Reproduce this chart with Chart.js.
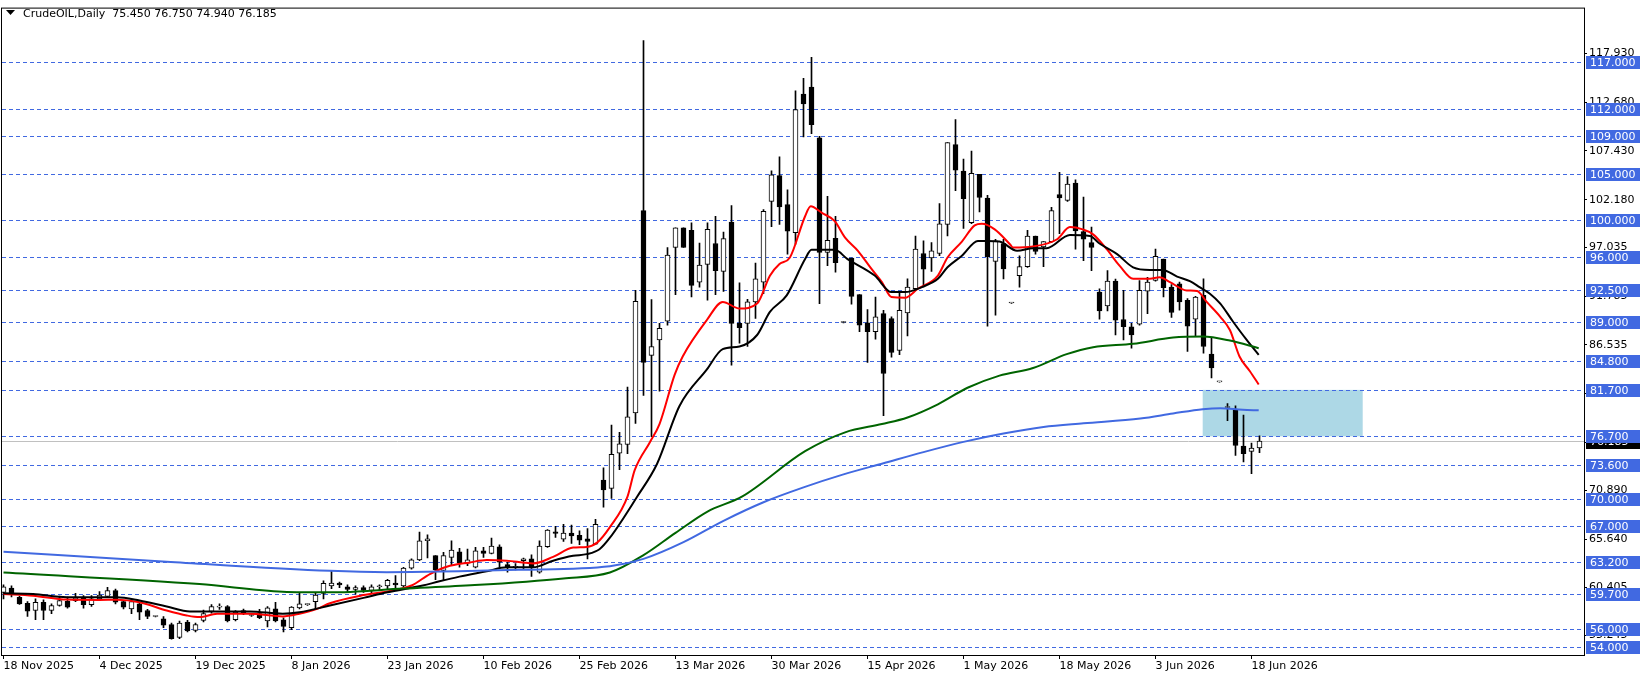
<!DOCTYPE html>
<html>
<head>
<meta charset="utf-8">
<script src="https://cdn.jsdelivr.net/npm/chart.js@4.4.0/dist/chart.umd.min.js"></script>
<style>
html, body { margin: 0; padding: 0; background: #fff; }
canvas { display: block; }
</style>
</head>
<body>
<canvas id="grafica" width="1641" height="679"></canvas>
<script>
// velas diarias (una por barra, de 18 Nov 2025 a 19 Jun 2026)
var opens = [
  59.9, 60.35, 59.37, 58.72, 57.94, 58.83, 57.94, 58.48, 58.94, 59.0,
  59.36, 58.58, 59.19, 59.47, 60.08, 58.9, 58.12, 58.65, 57.94, 57.3,
  57.05, 56.42, 55.03, 56.7, 55.81, 56.88, 57.83, 58.3, 58.37, 56.95,
  57.94, 57.4, 57.6, 56.81, 58.12, 56.95, 56.1, 58.23, 58.58, 58.9,
  59.79, 60.6, 60.9, 60.5, 60.2, 60.4, 60.1, 60.5, 60.6, 60.9,
  60.6, 62.5, 63.39, 65.45, 63.85, 62.25, 63.67, 64.27, 63.03, 62.6,
  64.38, 64.1, 64.81, 62.89, 62.6, 63.32, 63.5, 62.07, 64.81, 66.41,
  65.63, 66.27, 66.05, 65.66, 65.09, 72.0, 71.1, 74.89, 75.82, 79.23,
  101.01, 85.41, 87.08, 89.11, 97.03, 99.16, 98.88, 93.31, 95.22, 97.46,
  94.47, 99.77, 88.86, 88.86, 91.17, 93.3, 102.0, 104.78, 101.65, 98.63,
  113.55, 114.3, 108.83, 96.5, 98.03, 88.96, 95.9, 91.95, 88.93, 87.97,
  89.92, 89.39, 85.94, 90.0, 92.59, 96.39, 95.9, 96.39, 99.52, 108.12,
  105.27, 99.7, 104.92, 102.36, 95.54, 97.46, 91.06, 94.01, 94.97, 98.27,
  97.1, 97.67, 102.72, 102.11, 103.96, 98.74, 97.56, 92.23, 90.74, 93.41,
  89.28, 88.5, 88.79, 92.34, 93.48, 95.79, 92.77, 93.12, 91.35, 89.32,
  91.88, 85.55, 82.57, 79.8, 79.51, 75.64, 75.07, 75.45
];
var highs = [
  60.7, 60.6, 59.5, 58.9, 59.19, 59.1, 58.65, 59.5, 59.4, 59.8,
  59.55, 59.55, 59.97, 60.43, 60.25, 59.0, 59.08, 58.83, 58.08, 57.35,
  57.3, 56.6, 56.8, 56.88, 56.6, 58.0, 58.58, 58.65, 58.48, 57.94,
  58.1, 57.5, 58.08, 58.37, 58.83, 57.16, 58.37, 59.9, 58.65, 59.79,
  61.14, 62.2, 61.0, 60.7, 60.6, 60.6, 60.7, 60.7, 61.3, 61.7,
  62.6, 63.5, 66.4, 66.1, 63.85, 64.2, 65.45, 64.63, 64.56, 64.74,
  64.74, 65.73, 65.02, 63.14, 63.0, 63.6, 63.95, 65.45, 66.66, 67.01,
  67.22, 67.15, 66.52, 66.76, 67.76, 73.3, 77.91, 77.13, 82.0, 92.41,
  119.31, 91.42, 88.86, 97.03, 99.16, 99.16, 99.7, 97.5, 99.7, 100.4,
  98.7, 101.55, 93.23, 91.45, 95.36, 101.12, 105.3, 106.8, 103.25, 113.9,
  115.26, 117.5, 109.0, 102.54, 100.4, 89.05, 95.9, 91.95, 90.35, 91.7,
  90.28, 89.57, 92.24, 93.66, 98.27, 97.74, 97.56, 101.76, 108.33, 110.82,
  106.55, 107.41, 104.92, 102.65, 97.92, 97.92, 91.1, 96.14, 98.88, 98.27,
  97.67, 101.37, 105.13, 104.67, 104.32, 102.47, 99.23, 92.59, 94.54, 93.62,
  92.41, 88.86, 93.48, 93.83, 96.85, 95.79, 93.05, 93.3, 91.52, 91.77,
  93.66, 87.26, 82.62, 80.22, 79.97, 79.0, 75.96, 76.75
];
var lows = [
  59.2, 59.4, 58.6, 57.3, 56.95, 56.95, 57.6, 58.4, 58.2, 58.9,
  58.2, 58.37, 59.0, 59.37, 58.65, 58.12, 57.6, 56.95, 57.05, 57.25,
  56.1, 54.85, 54.92, 55.63, 55.63, 56.7, 57.66, 58.05, 56.7, 56.81,
  57.5, 57.3, 57.05, 56.17, 56.7, 55.63, 55.88, 58.12, 58.5, 58.12,
  59.19, 60.3, 60.4, 59.9, 59.7, 59.9, 59.8, 60.1, 60.3, 60.4,
  60.2, 62.4, 63.3, 63.6, 61.26, 61.26, 62.78, 62.6, 62.78, 62.53,
  63.67, 64.03, 62.6, 62.07, 62.3, 62.4, 61.6, 61.97, 64.74, 65.8,
  65.38, 65.17, 65.02, 63.5, 65.02, 69.07, 70.0, 73.1, 74.82, 78.09,
  81.11, 76.67, 81.57, 88.68, 91.95, 97.03, 91.7, 92.77, 91.35, 91.95,
  92.3, 84.35, 86.72, 86.37, 89.39, 92.06, 99.27, 99.52, 96.32, 97.39,
  108.93, 109.29, 90.99, 95.07, 94.37, 88.9, 90.92, 87.97, 84.67, 87.15,
  78.91, 85.23, 85.48, 87.51, 92.41, 92.84, 94.47, 96.14, 98.27, 103.14,
  99.09, 99.59, 100.87, 88.57, 89.75, 93.66, 91.0, 92.77, 94.9, 96.32,
  94.97, 97.56, 98.52, 102.0, 96.85, 95.61, 94.54, 89.32, 90.21, 87.62,
  87.08, 86.19, 88.68, 89.92, 93.41, 91.7, 89.5, 90.28, 85.84, 87.51,
  85.66, 83.0, 82.52, 78.38, 74.64, 73.93, 72.69, 74.94
];
var closes = [
  60.5, 59.72, 58.65, 57.87, 58.83, 57.94, 58.48, 59.0, 58.3, 59.3,
  58.58, 59.19, 59.61, 60.08, 58.83, 58.3, 58.9, 57.77, 57.3, 57.3,
  56.35, 54.92, 56.6, 55.74, 56.42, 57.6, 58.37, 58.33, 56.81, 57.77,
  57.66, 57.42, 57.16, 58.23, 56.81, 56.24, 58.3, 58.65, 58.6, 59.61,
  60.86, 60.9, 60.7, 60.2, 60.4, 60.1, 60.5, 60.6, 61.2, 60.7,
  62.5, 63.39, 65.45, 65.66, 62.32, 63.85, 64.45, 63.03, 63.39, 64.38,
  64.1, 64.88, 63.14, 62.6, 62.7, 63.5, 62.6, 64.88, 66.59, 66.23,
  66.27, 65.98, 65.52, 65.38, 67.22, 70.92, 74.75, 75.89, 78.8, 91.24,
  84.67, 86.37, 88.33, 96.21, 99.16, 97.03, 92.95, 95.15, 98.99, 94.54,
  97.99, 88.86, 88.4, 91.17, 93.66, 100.94, 104.85, 101.4, 98.8, 111.88,
  112.49, 110.25, 96.5, 97.81, 95.4, 88.96, 91.77, 88.68, 87.97, 89.57,
  83.46, 85.73, 90.28, 92.77, 96.85, 94.69, 96.68, 99.59, 108.33, 105.35,
  102.29, 105.03, 102.43, 96.04, 97.74, 94.72, 91.06, 94.97, 98.27, 96.6,
  97.67, 101.01, 102.36, 103.85, 98.81, 97.92, 97.03, 90.21, 93.41, 89.21,
  88.5, 87.62, 92.41, 93.3, 96.07, 92.7, 90.03, 91.17, 88.57, 91.7,
  86.37, 84.06, 82.57, 79.8, 75.71, 74.82, 75.43, 76.185
];

// medias moviles: [barra, precio]
var maRoja = [
  [0,59.72],[3.7,59.54],[7.9,59.12],[12,59.08],[14.2,59.1],[17,58.83],[20.4,57.94],[22.9,57.41],
  [24.5,57.23],[26.7,57.59],[30.8,57.59],[34.9,57.3],[37,57.6],[39.2,58.12],[40.8,58.73],
  [45,59.6],[48,60.0],[51,60.63],[53.3,61.87],[55.4,62.66],[58.3,63.12],[60.4,63.37],[62.9,63.3],
  [64.9,63.12],[66.2,63.01],[68.7,63.72],[71.2,64.72],[72.9,64.79],[74.2,65.25],[75.8,66.92],
  [78,70.2],[78.9,73.05],[80.8,76.07],[82,78.02],[83.9,83.35],[84.9,85.3],[87.9,89.2],[89.9,91.17],
  [92,90.46],[94.2,91.0],[95.8,94.0],[97,95.25],[98.3,95.96],[100.2,100.4],[100.9,101.47],
  [102.3,100.76],[103.9,99.87],[105.2,98.1],[106.8,96.68],[108.5,94.72],[109.8,93.3],[111,91.7],
  [112.7,91.63],[114.3,92.59],[116.8,94.01],[118,95.96],[119.8,97.67],[121.4,99.41],[122.3,99.59],
  [123.9,98.98],[125.8,97.39],[126.2,97.03],[128.7,97.14],[131.7,97.92],[133.3,99.23],[134.9,98.98],
  [136.2,98.45],[137.9,96.85],[139.5,95.08],[141.2,93.66],[143.3,93.66],[144.5,93.83],[145.8,93.3],
  [147.9,92.41],[149.2,92.35],[150.4,91.17],[152.1,89.57],[153.3,88.15],[154.5,85.3],[155.8,83.71],
  [156.9,82.28]
];
var maNegra = [
  [0,59.79],[3.7,59.72],[7.9,59.37],[14.2,59.37],[17,59.01],[20.4,58.37],[23.3,57.84],[26.7,57.84],
  [30.8,57.84],[34.9,57.59],[37,57.75],[40.8,58.48],[45,59.3],[48,59.9],[52.4,60.63],[54.5,61.09],
  [57,61.59],[60.4,62.16],[62.9,62.59],[66.2,62.59],[68.7,63.3],[71.2,63.83],[72.9,64.01],
  [74.5,64.54],[75.8,65.78],[79.2,70.2],[81.7,73.75],[84.5,79.97],[87.9,83.88],[89.9,86.09],
  [92,86.37],[94.2,87.61],[95.8,90.1],[97.9,91.88],[100.2,95.79],[101,96.78],[103.9,96.78],
  [105.5,95.79],[108.9,94.01],[111,92.23],[112.7,92.23],[114.8,92.77],[116.8,93.66],[118,94.9],
  [119.8,96.14],[121.8,97.74],[123,97.74],[124.5,97.67],[126.7,96.68],[128.7,96.96],[130.4,96.96],
  [133.3,98.38],[135.8,98.27],[137,97.46],[139.2,96.32],[141.2,94.9],[143.3,94.62],[144.9,94.62],
  [146.7,93.9],[148.3,93.41],[149.5,92.77],[150.8,92.06],[152.1,90.99],[153.7,89.04],[155.4,87.08],
  [156.9,85.48]
];
var maVerde = [
  [0,62.03],[24.5,60.79],[34.9,59.97],[40.8,59.9],[50,60.3],[58.9,60.68],[70,61.4],[75.8,62.03],
  [80,63.9],[84,66.3],[88,68.6],[92.3,70.2],[100.2,75.1],[105.2,77.13],[109.8,78.02],[113,78.73],
  [116.8,80.15],[120.5,81.93],[124.5,83.24],[128.7,84.06],[132.9,85.55],[136.2,86.3],[141.2,86.66],
  [146.2,87.33],[149.9,87.44],[153.3,87.01],[156.9,86.19]
];
var maAzul = [
  [0,64.27],[20.4,63.2],[40.8,62.21],[47.9,62.07],[64.5,62.32],[75.8,62.71],[80,63.5],
  [85,65.3],[90,67.6],[95,69.6],[100,71.2],[105,72.6],[110,73.8],[115,75.0],[120,76.1],
  [125,77.0],[130,77.7],[135,78.1],[142.1,78.62],[146.2,79.16],[149.9,79.62],[152.1,79.73],
  [154.9,79.55],[156.9,79.5]
];

// lineas horizontales y zona
var niveles = [117, 112, 109, 105, 100, 96, 92.5, 89, 84.8, 81.7, 76.7, 73.6, 70, 67, 63.2, 59.7, 56, 54];
var precioActual = 76.185;
var zonaDesde = 149.9, zonaHasta = 169.9, zonaAlto = 81.7, zonaBajo = 76.7;

// etiquetas de ejes
var ticksPrecio = [117.930, 112.680, 107.430, 102.180, 97.035, 91.785, 86.535, 81.285, 76.035, 70.890, 65.640, 60.405, 55.245];
var barrasFecha = [0, 12, 24, 36, 48, 60, 72, 84, 96, 108, 120, 132, 144, 156];
var fechas = ['18 Nov 2025', '4 Dec 2025', '19 Dec 2025', '8 Jan 2026', '23 Jan 2026', '10 Feb 2026',
  '25 Feb 2026', '13 Mar 2026', '30 Mar 2026', '15 Apr 2026', '1 May 2026', '18 May 2026',
  '3 Jun 2026', '18 Jun 2026'];

var titulo = 'CrudeOIL,Daily  75.450 76.750 74.940 76.185';
var fuente = '11px "DejaVu Sans"';

//armar datos para la grafica
var mechas = [];
var cuerpos = [];
opens.forEach(function(o, i){
  mechas.push({x: i, y: [lows[i], highs[i]]});
  cuerpos.push({x: i, y: [Math.min(o, closes[i]), Math.max(o, closes[i])]});
});
function puntos(arr){
  return arr.map(function(p){ return {x: p[0], y: p[1]}; });
}
function linea(arr, color){
  return {
    type: 'line',
    data: puntos(arr),
    borderColor: color,
    borderWidth: 2,
    pointRadius: 0,
    cubicInterpolationMode: 'monotone',
    order: 0
  };
}
function esAlcista(i){ return closes[i] >= opens[i]; }

var dibujo = {
  id: 'dibujo',
  beforeDatasetsDraw: function(chart){
    var ctx = chart.ctx, a = chart.chartArea, x = chart.scales.x, y = chart.scales.y;
    ctx.save();
    // zona celeste
    var x1 = x.getPixelForValue(zonaDesde), x2 = x.getPixelForValue(zonaHasta);
    var y1 = y.getPixelForValue(zonaAlto), y2 = y.getPixelForValue(zonaBajo);
    ctx.fillStyle = '#ADD8E6';
    ctx.fillRect(x1, y1, x2 - x1, y2 - y1);
    // niveles punteados
    ctx.strokeStyle = '#4169E1';
    ctx.lineWidth = 1;
    ctx.setLineDash([4, 3]);
    niveles.forEach(function(n){
      var py = Math.round(y.getPixelForValue(n)) + 0.5;
      ctx.beginPath(); ctx.moveTo(a.left, py); ctx.lineTo(a.right, py); ctx.stroke();
    });
    ctx.setLineDash([]);
    // precio actual
    var pa = Math.round(y.getPixelForValue(precioActual)) + 0.5;
    ctx.strokeStyle = '#C0C0C0';
    ctx.beginPath(); ctx.moveTo(a.left, pa); ctx.lineTo(a.right, pa); ctx.stroke();
    ctx.restore();
  },
  afterDraw: function(chart){
    var ctx = chart.ctx, a = chart.chartArea, y = chart.scales.y;
    ctx.save();
    // marco
    ctx.strokeStyle = '#000';
    ctx.lineWidth = 1;
    ctx.strokeRect(a.left - 0.5, a.top - 0.5, a.right - a.left + 1, a.bottom - a.top + 1);
    // etiquetas de precio
    ctx.font = fuente;
    ctx.textBaseline = 'middle';
    ctx.textAlign = 'left';
    var bx = a.right + 2;
    var pa = Math.round(y.getPixelForValue(precioActual));
    ctx.fillStyle = '#000';
    ctx.fillRect(bx, pa - 5, 54, 13);
    ctx.fillStyle = '#fff';
    ctx.fillText(precioActual.toFixed(3), bx + 4, pa + 1);
    niveles.forEach(function(n){
      var py = Math.round(y.getPixelForValue(n));
      ctx.fillStyle = '#4169E1';
      ctx.fillRect(bx, py - 6, 54, 13);
      ctx.fillStyle = '#fff';
      ctx.fillText(n.toFixed(3), bx + 4, py + 1);
    });
    // titulo
    ctx.fillStyle = '#000';
    ctx.beginPath();
    ctx.moveTo(6, 10); ctx.lineTo(15, 10); ctx.lineTo(10.5, 15); ctx.closePath();
    ctx.fill();
    ctx.fillText(titulo, 23, 14);
    ctx.restore();
  }
};

var grafica = new Chart(document.getElementById('grafica'), {
  type: 'bar',
  data: {
    datasets: [
      linea(maAzul, '#4169E1'),
      linea(maVerde, '#006400'),
      linea(maNegra, '#000000'),
      linea(maRoja, '#FF0000'),
      {
        data: cuerpos,
        barThickness: 5,
        minBarLength: 1,
        grouped: false,
        borderWidth: 1,
        borderSkipped: false,
        borderColor: '#000',
        backgroundColor: function(c){ return esAlcista(c.dataIndex) ? '#FFFFFF' : '#000000'; },
        order: 1
      },
      {
        data: mechas,
        barThickness: 1,
        grouped: false,
        backgroundColor: '#000',
        order: 2
      }
    ]
  },
  options: {
    responsive: false,
    animation: false,
    layout: { padding: { left: 2, top: 2, right: 0, bottom: 0 } },
    plugins: { legend: { display: false }, tooltip: { enabled: false } },
    scales: {
      x: {
        type: 'linear',
        offset: false,
        min: -0.1875,
        max: 197.5625,
        afterFit: function(s){ s.height = 24; },
        afterBuildTicks: function(s){ s.ticks = barrasFecha.map(function(v){ return {value: v}; }); },
        grid: { offset: false, drawOnChartArea: false, tickLength: 4, color: '#000' },
        border: { display: true, color: '#000' },
        ticks: {
          autoSkip: false, maxRotation: 0, align: 'start', padding: 1,
          color: '#000', font: { family: 'DejaVu Sans', size: 11 },
          callback: function(v){ return fechas[barrasFecha.indexOf(v)]; }
        }
      },
      y: {
        position: 'right',
        min: 53.15,
        max: 122.76,
        afterFit: function(s){ s.width = 57; },
        afterBuildTicks: function(s){ s.ticks = ticksPrecio.map(function(v){ return {value: v}; }); },
        grid: { drawOnChartArea: false, tickLength: 3, color: '#000' },
        border: { display: true, color: '#000' },
        ticks: {
          padding: 2, color: '#000', font: { family: 'DejaVu Sans', size: 11 },
          callback: function(v){ return v.toFixed(3); }
        }
      }
    }
  },
  plugins: [dibujo]
});
</script>
</body>
</html>
